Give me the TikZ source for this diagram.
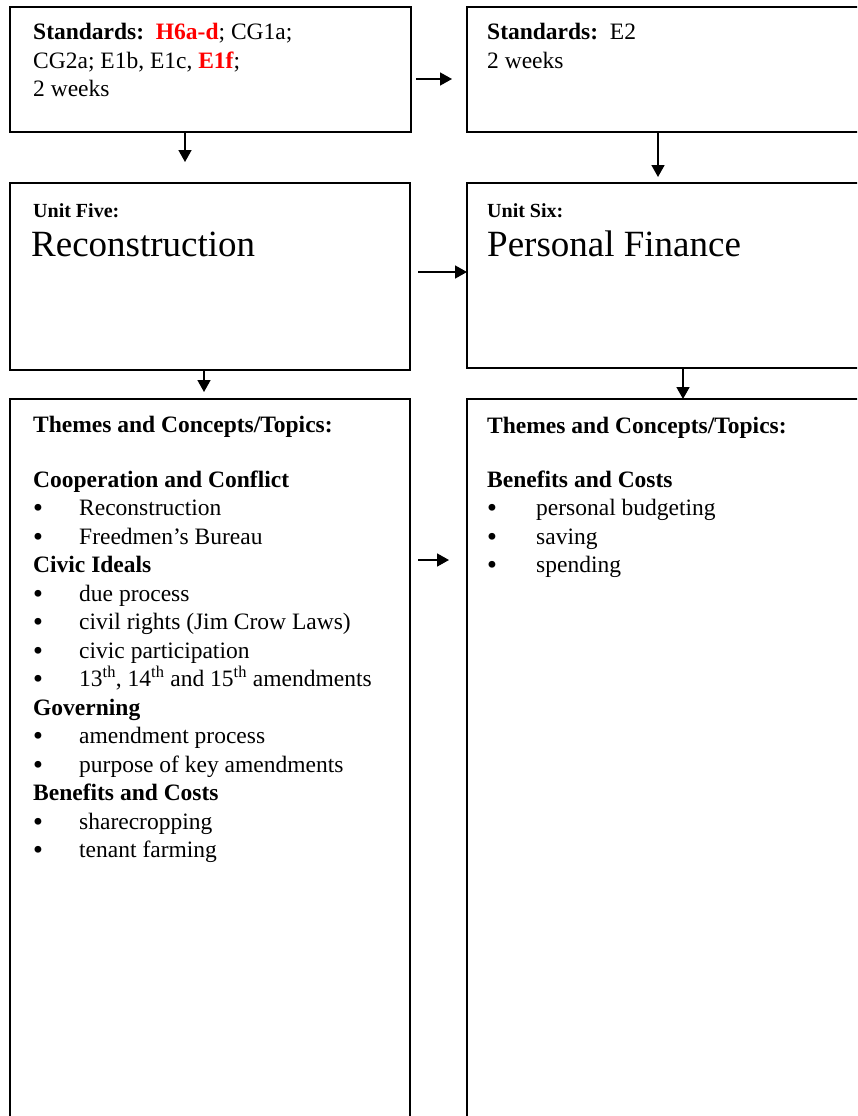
\documentclass[tikz,border=0pt]{standalone}
\usepackage{fontspec}
\setmainfont{Liberation Serif}
\newfontfamily\dejavu{DejaVu Sans}
\usetikzlibrary{arrows.meta,calc}
\definecolor{stdred}{RGB}{255,0,0}
\begin{document}
\begin{tikzpicture}[x=1pt,y=-1pt,
  box/.style={draw, line width=1.8pt, rectangle, inner sep=0pt, outer sep=0pt, anchor=north west},
  txt/.style={anchor=base west, inner sep=0pt, font=\fontsize{23.5}{28.5}\selectfont},
  blt/.style={anchor=base west, inner sep=0pt, font=\fontsize{23.5}{28.5}\dejavu},
  hd/.style={txt, font=\fontsize{23.5}{28.5}\selectfont\bfseries},
  bigtxt/.style={anchor=base west, inner sep=0pt, font=\fontsize{37}{44}\selectfont},
  unittxt/.style={anchor=base west, inner sep=0pt, font=\fontsize{20}{24}\selectfont\bfseries},
  arr/.style={line width=1.7pt, -{Triangle[length=12pt,width=13pt]}}]
\path[use as bounding box, clip] (0,0) rectangle (857,1116);

% boxes
\node[box, minimum width=401pt, minimum height=125pt] (A) at (10,7) {};
\node[box, minimum width=433pt, minimum height=125pt] (B) at (467,7) {};
\node[box, minimum width=400pt, minimum height=187pt] (C) at (10,183) {};
\node[box, minimum width=433pt, minimum height=185pt] (D) at (467,183) {};
\node[box, minimum width=400pt, minimum height=801pt] (E) at (10,399) {};
\node[box, minimum width=433pt, minimum height=801pt] (F) at (467,399) {};

% box A text
\node[txt] (a1) at (33,40) {\textbf{Standards:}~~\textbf{\color{stdred}H6a-d}; CG1a;};
\node[txt] (a2) at (33,68) {CG2a; E1b, E1c, \textbf{\color{stdred}E1f};};
\node[txt] (a3) at (33,96) {2 weeks};
% box B text
\node[txt] (b1) at (487,40) {\textbf{Standards:}~~E2};
\node[txt] (b2) at (487,68) {2 weeks};
% box C text
\node[unittxt] (c1) at (33,217) {Unit Five:};
\node[bigtxt] (c2) at (31,256) {Reconstruction};
% box D text
\node[unittxt] (d1) at (487,217) {Unit Six:};
\node[bigtxt] (d2) at (487,256) {Personal Finance};

% box E text
\node[hd] (e0) at (33,432) {Themes and Concepts/Topics:};
\node[hd] (e1) at (33,487) {Cooperation and Conflict};
\node[blt] (eb2) at (31,516.5) {•};
\node[txt] (e2) at (79,515.5) {Reconstruction};
\node[blt] (eb3) at (31,545) {•};
\node[txt] (e3) at (79,544) {Freedmen’s Bureau};
\node[hd] (e4) at (33,572.5) {Civic Ideals};
\node[blt] (eb5) at (31,602) {•};
\node[txt] (e5) at (79,601) {due process};
\node[blt] (eb6) at (31,630.5) {•};
\node[txt] (e6) at (79,629.5) {civil rights (Jim Crow Laws)};
\node[blt] (eb7) at (31,659) {•};
\node[txt] (e7) at (79,658) {civic participation};
\node[blt] (eb8) at (31,687.5) {•};
\node[txt] (e8) at (79,686.5) {13\textsuperscript{th}, 14\textsuperscript{th} and 15\textsuperscript{th} amendments};
\node[hd] (e9) at (33,715) {Governing};
\node[blt] (eb10) at (31,744.5) {•};
\node[txt] (e10) at (79,743.5) {amendment process};
\node[blt] (eb11) at (31,773) {•};
\node[txt] (e11) at (79,772) {purpose of key amendments};
\node[hd] (e12) at (33,800.5) {Benefits and Costs};
\node[blt] (eb13) at (31,830) {•};
\node[txt] (e13) at (79,829) {sharecropping};
\node[blt] (eb14) at (31,858.5) {•};
\node[txt] (e14) at (79,857.5) {tenant farming};

% box F text
\node[hd] (f0) at (487,433) {Themes and Concepts/Topics:};
\node[hd] (f1) at (487,487) {Benefits and Costs};
\node[blt] (fb2) at (485,516.5) {•};
\node[txt] (f2) at (536,515.5) {personal budgeting};
\node[blt] (fb3) at (485,545) {•};
\node[txt] (f3) at (536,544) {saving};
\node[blt] (fb4) at (485,573.5) {•};
\node[txt] (f4) at (536,572.5) {spending};

% connectors
\draw[arr, shorten <=5pt, shorten >=15pt] ([yshift=-72pt]A.north east) -- ([yshift=-72pt]A.north east -| B.west);
\draw[arr, shorten >=21pt] ([xshift=-25.5pt]A.south) -- ([xshift=-25.5pt]A.south |- C.north);
\draw[arr, shorten >=6pt] ([xshift=-25.5pt]B.south) -- ([xshift=-25.5pt]B.south |- D.north);
\draw[arr, shorten <=8pt] ([yshift=4.5pt]C.east) -- ([yshift=4.5pt]C.east -| D.west);
\draw[arr, shorten >=7pt] ([xshift=-6pt]C.south) -- ([xshift=-6pt]C.south |- E.north);
\draw[arr] ([xshift=-0.5pt]D.south) -- ([xshift=-0.5pt]D.south |- F.north);
\draw[arr, shorten <=8pt, shorten >=18pt] ([yshift=-161pt]E.north east) -- ([yshift=-161pt]E.north east -| F.west);
\end{tikzpicture}
\end{document}
